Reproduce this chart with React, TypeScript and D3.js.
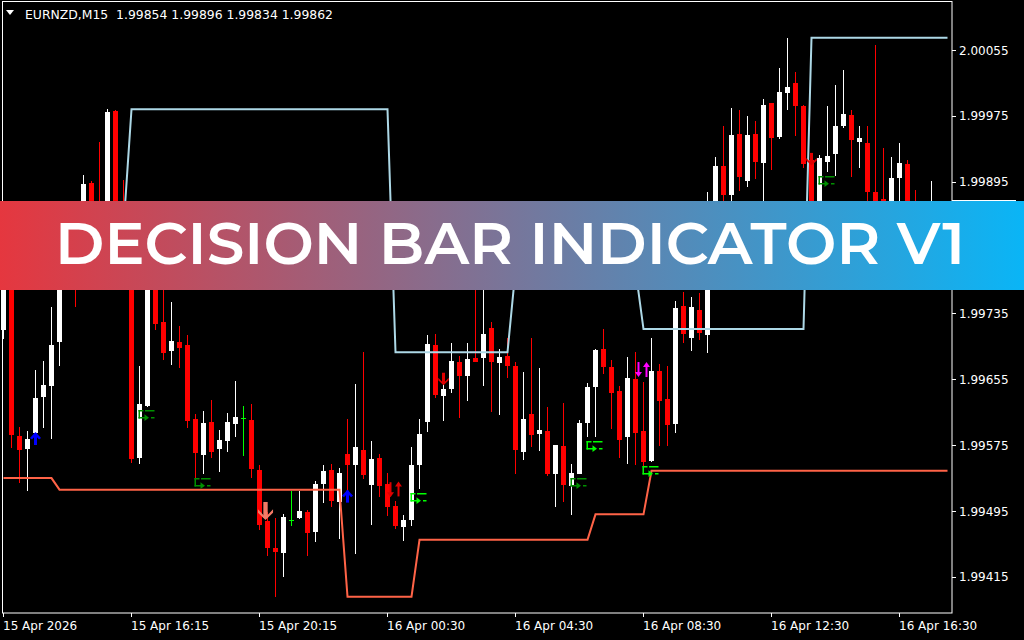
import React from "react";
import * as d3 from "d3";

// EURNZD M15 candles, bar 0 = 15 Apr 12:15
const opens = [
  1.99715, 1.998, 1.99586, 1.9957, 1.9959, 1.99633, 1.99647, 1.997, 1.99794, 1.99806,
  1.99824, 1.99893, 1.99855, 1.99806, 1.99981, 1.99848, 1.99788, 1.99559, 1.99622, 1.99782,
  1.99725, 1.99689, 1.997, 1.99697, 1.99607, 1.99563, 1.99603, 1.9957, 1.9958, 1.99601,
  1.99608, 1.99606, 1.99545, 1.99483, 1.9945, 1.99444, 1.99484, 1.99487, 1.99494, 1.9947,
  1.99528, 1.99545, 1.99506, 1.99564, 1.99551, 1.99569, 1.99527, 1.99559, 1.99528, 1.99501,
  1.99476, 1.99484, 1.99551, 1.99603, 1.99697, 1.99635, 1.99643, 1.99676, 1.99659, 1.99681,
  1.99681, 1.99717, 1.99675, 1.99683, 1.99671, 1.99567, 1.99613, 1.99588, 1.99592, 1.9954,
  1.99574, 1.99525, 1.9954, 1.99602, 1.99646, 1.99692, 1.9967, 1.99641, 1.99585, 1.99655,
  1.99592, 1.99556, 1.99665, 1.99631, 1.99601, 1.99744, 1.99705, 1.99739, 1.99709, 1.99824,
  1.99914, 1.99879, 1.99953, 1.99896, 1.99953, 1.99918, 1.99991, 1.99949, 2.00003, 2.00015,
  1.99987, 1.99921, 1.99836, 1.99919, 1.99929, 1.99963, 1.99976, 1.99943, 1.99942, 1.99882,
  1.99874, 1.99842, 1.99899, 1.99916, 1.99855, 1.99836, 1.99854,
];
const highs = [
  1.99812, 1.99812, 1.99597, 1.99592, 1.99666, 1.99677, 1.99743, 1.998, 1.99812, 1.99818,
  1.99903, 1.99896, 1.99943, 1.99983, 1.99982, 1.99897, 1.998, 1.99671, 1.99812, 1.99794,
  1.99769, 1.99749, 1.9972, 1.99709, 1.99613, 1.99616, 1.9963, 1.99593, 1.99614, 1.99653,
  1.99622, 1.99625, 1.99551, 1.99494, 1.99487, 1.99491, 1.99519, 1.99519, 1.99496, 1.99531,
  1.99551, 1.99552, 1.99547, 1.99607, 1.99649, 1.99688, 1.9958, 1.99564, 1.99541, 1.99507,
  1.9949, 1.99573, 1.99607, 1.99709, 1.9971, 1.99654, 1.99699, 1.99683, 1.99699, 1.99782,
  1.99776, 1.99725, 1.99692, 1.99705, 1.99676, 1.99664, 1.99705, 1.99669, 1.99621, 1.99575,
  1.99626, 1.99552, 1.99606, 1.9965, 1.99692, 1.99716, 1.99678, 1.99647, 1.99682, 1.99688,
  1.99652, 1.99705, 1.99674, 1.99671, 1.9975, 1.99761, 1.99755, 1.9976, 1.99882, 1.99925,
  1.99963, 1.99984, 1.99982, 1.99975, 1.99969, 1.99995, 1.99991, 2.00033, 2.0007, 2.00028,
  1.99988, 1.99927, 1.99927, 1.99987, 2.00012, 2.00031, 1.99982, 1.99963, 1.99963, 2.00061,
  1.99936, 1.99925, 1.99942, 1.99921, 1.99885, 1.99867, 1.99896,
];
const lows = [
  1.99704, 1.99571, 1.99529, 1.99519, 1.99581, 1.99596, 1.99582, 1.99671, 1.99765, 1.99743,
  1.99812, 1.99824, 1.99788, 1.99794, 1.99788, 1.99782, 1.99553, 1.99552, 1.99621, 1.99715,
  1.99678, 1.99672, 1.99669, 1.99596, 1.99533, 1.9954, 1.99559, 1.99542, 1.99567, 1.99585,
  1.99562, 1.99535, 1.99472, 1.9944, 1.99391, 1.99415, 1.99477, 1.99485, 1.9944, 1.99457,
  1.99505, 1.995, 1.99461, 1.99514, 1.99443, 1.99534, 1.99478, 1.99512, 1.99489, 1.99473,
  1.99459, 1.99477, 1.99522, 1.99591, 1.99632, 1.99604, 1.99638, 1.99608, 1.99629, 1.99676,
  1.99647, 1.99615, 1.99612, 1.99657, 1.9954, 1.99557, 1.99573, 1.99568, 1.99537, 1.995,
  1.99506, 1.9949, 1.9954, 1.99585, 1.99585, 1.99661, 1.99595, 1.99559, 1.99552, 1.99551,
  1.99545, 1.99554, 1.99574, 1.99574, 1.9959, 1.99699, 1.99689, 1.99703, 1.99687, 1.99812,
  1.99867, 1.99861, 1.99884, 1.99889, 1.99898, 1.99867, 1.99909, 1.99947, 1.99982, 1.9995,
  1.99912, 1.99824, 1.99824, 1.99907, 1.99902, 1.9996, 1.99901, 1.99912, 1.99867, 1.99842,
  1.99836, 1.9983, 1.99867, 1.99842, 1.99824, 1.99824, 1.99834,
];
const closes = [
  1.998, 1.99587, 1.99569, 1.99582, 1.99632, 1.99648, 1.99697, 1.99788, 1.99776, 1.99769,
  1.99892, 1.99836, 1.998, 1.9998, 1.998, 1.998, 1.99558, 1.99625, 1.998, 1.99722,
  1.99687, 1.99701, 1.99693, 1.99604, 1.99565, 1.99602, 1.99567, 1.99581, 1.99603, 1.99609,
  1.99608, 1.99546, 1.99478, 1.9945, 1.99445, 1.99488, 1.99484, 1.99495, 1.99468, 1.99528,
  1.99544, 1.99507, 1.99541, 1.99551, 1.99573, 1.99539, 1.99558, 1.99525, 1.995, 1.99477,
  1.99484, 1.99551, 1.99588, 1.99698, 1.99636, 1.99643, 1.99677, 1.99659, 1.9968, 1.99676,
  1.9971, 1.99676, 1.99682, 1.99671, 1.99569, 1.99607, 1.99587, 1.99593, 1.9954, 1.99575,
  1.99527, 1.99541, 1.99602, 1.99646, 1.99691, 1.9967, 1.99638, 1.99581, 1.99657, 1.9959,
  1.99554, 1.99665, 1.99629, 1.99599, 1.99742, 1.9971, 1.99743, 1.99711, 1.99867, 1.99914,
  1.99879, 1.99952, 1.99901, 1.99952, 1.99919, 1.99988, 1.99948, 2.00004, 2.0001, 1.99987,
  1.99916, 1.99836, 1.99924, 1.99926, 1.99963, 1.99977, 1.99946, 1.99948, 1.99882, 1.99855,
  1.99848, 1.99899, 1.99918, 1.99855, 1.99836, 1.99855, 1.99862,
];

// indicator levels (vertices of the drawn polylines)
const upperBars = [15, 16, 48, 49, 63, 64, 79, 80, 100, 101, 118];
const upperLevels = [1.99839, 1.99983, 1.99983, 1.99688, 1.99688, 1.99788, 1.99788, 1.99716, 1.99716, 2.0007, 2.0007];
const lowerBars = [0, 6, 7, 42, 43, 51, 52, 73, 74, 80, 81, 118];
const lowerLevels = [1.99535, 1.99535, 1.99521, 1.99521, 1.99391, 1.99391, 1.9946, 1.9946, 1.99491, 1.99491, 1.99544, 1.99544];

// signals
const buyBars = [4, 43];
const buyPrices = [1.99591, 1.99521];
const sellBars = [33, 55, 101];
const sellPrices = [1.99506, 1.99663, 1.9993];
const sellColors = ["#f37a66", "#e00000", "#e00000"];
const sellSizes = [1.45, 1, 1];
const thinDownBars = [48, 79];
const thinDownPrices = [1.9953, 1.99676];
const thinUpBars = [49, 80];
const thinUpPrices = [1.99531, 1.99676];
const thinColors = ["#e00000", "#ff00ff"];
const exitBars = [17, 24, 51, 71, 73, 80, 102];
const exitPrices = [1.99618, 1.99535, 1.99517, 1.99535, 1.9958, 1.9955, 1.99902];
const exitBright = [false, false, true, false, true, true, false];

const timeTickBars = [0, 16, 32, 48, 64, 80, 96, 112];
const timeLabels = [
  "15 Apr 2026", "15 Apr 16:15", "15 Apr 20:15", "16 Apr 00:30",
  "16 Apr 04:30", "16 Apr 08:30", "16 Apr 12:30", "16 Apr 16:30",
];
const priceTicks = [2.00055, 1.99975, 1.99895, 1.99815, 1.99735, 1.99655, 1.99575, 1.99495, 1.99415];

const axisFont = "'DejaVu Sans', Tahoma, sans-serif";

export default function App() {
  const x = d3.scaleLinear().domain([0, 118]).range([3.5, 947.5]);
  const y = d3.scaleLinear().domain([1.99415, 2.00055]).range([576.9, 50]);

  const lvl = d3.line<[number, number]>().x(d => x(d[0])).y(d => y(d[1]));
  const upper = lvl(upperBars.map((b, k) => [b, upperLevels[k]]));
  const lower = lvl(lowerBars.map((b, k) => [b, lowerLevels[k]]));

  return (
    <svg width={1024} height={640} style={{ position: "fixed", left: 0, top: 0, background: "#000" }}>
      <rect width={1024} height={640} fill="#000" />

      {/* candles */}
      {opens.map((o, i) => {
        const c = closes[i];
        const cx = x(i);
        const doji = o === c;
        const col = doji ? "#00ff00" : c > o ? "#ffffff" : "#ff0000";
        const top = Math.round(y(Math.max(o, c)));
        const bot = Math.round(y(Math.min(o, c)));
        return (
          <g key={i}>
            <line x1={cx} x2={cx} y1={Math.round(y(highs[i]))} y2={Math.round(y(lows[i]))} stroke={col} strokeWidth={1} />
            {doji ? (
              <line x1={cx - 2.5} x2={cx + 2.5} y1={top + 0.5} y2={top + 0.5} stroke={col} strokeWidth={1} />
            ) : (
              <rect x={cx - 2.5} y={top} width={5} height={Math.max(1, bot - top)} fill={col} />
            )}
          </g>
        );
      })}

      {/* levels */}
      <path d={upper || ""} fill="none" stroke="#add8e6" strokeWidth={2} />
      <path d={lower || ""} fill="none" stroke="#ff6347" strokeWidth={2} />

      {/* buy arrows */}
      {buyBars.map((b, k) => (
        <g key={"b" + k} transform={`translate(${x(b)},${y(buyPrices[k])})`} fill="#0000ff">
          <path d="M-5.5,6 L0,0 L5.5,6 L3.5,7.5 L0,3.5 L-3.5,7.5 Z" />
          <rect x={-1.5} y={1} width={3} height={12} />
        </g>
      ))}
      {sellBars.map((b, k) => (
        <g key={"s" + k} transform={`translate(${x(b) - (k === 0 ? 2 : 0)},${y(sellPrices[k])}) scale(${sellSizes[k]})`} fill={sellColors[k]}>
          <rect x={-1.5} y={0} width={3} height={11} />
          <path d="M-5.2,5 L0,10.5 L5.2,5 L5.2,7.5 L0,12.5 L-5.2,7.5 Z" />
        </g>
      ))}
      {thinDownBars.map((b, k) => (
        <g key={"td" + k} transform={`translate(${x(b) + 3},${y(thinDownPrices[k])})`} fill={thinColors[k]}>
          <rect x={-1} y={0} width={2} height={11} />
          <path d="M-3.5,10 L3.5,10 L0,15 Z" />
        </g>
      ))}
      {thinUpBars.map((b, k) => (
        <g key={"tu" + k} transform={`translate(${x(b) + 3},${y(thinUpPrices[k])})`} fill={thinColors[k]}>
          <path d="M-3.5,5 L3.5,5 L0,0 Z" />
          <rect x={-1} y={4} width={2} height={11} />
        </g>
      ))}
      {exitBars.map((b, k) => (
        <g key={"e" + k} transform={`translate(${x(b) - 1},${Math.round(y(exitPrices[k]))})`} fill={exitBright[k] ? "#00ff00" : "#009000"}>
          <rect x={0} y={0} width={1.5} height={8.5} />
          <rect x={0} y={0} width={5} height={1.5} />
          <rect x={0} y={7} width={7} height={1.5} />
          <path d="M6,4.3 L10.5,7.7 L6,11 Z" />
          <rect x={6.5} y={0} width={9.5} height={1.5} />
          <rect x={12.5} y={7} width={3.5} height={1.5} />
        </g>
      ))}

      {/* frame */}
      <rect x={2.5} y={1.5} width={949.5} height={611.5} fill="none" stroke="#fff" strokeWidth={1} />

      {/* price axis */}
      {priceTicks.map(p => (
        <g key={p}>
          <line x1={952} x2={956} y1={Math.round(y(p)) + 0.5} y2={Math.round(y(p)) + 0.5} stroke="#fff" />
          <text x={959} y={y(p) + 4.5} fill="#fff" fontSize={12} fontFamily={axisFont}>{p.toFixed(5)}</text>
        </g>
      ))}
      <line x1={952} x2={1016} y1={200.5} y2={200.5} stroke="#fff" />

      {/* time axis */}
      {timeTickBars.map((b, k) => (
        <g key={b}>
          <line x1={x(b)} x2={x(b)} y1={613} y2={617} stroke="#fff" />
          <text x={x(b) - 0.5} y={630} fill="#fff" fontSize={12} fontFamily={axisFont}>{timeLabels[k]}</text>
        </g>
      ))}

      {/* header */}
      <path d="M6,10 L14,10 L10,15 Z" fill="#fff" />
      <text x={25} y={19} fill="#fff" fontSize={12} fontFamily={axisFont} textLength={308} lengthAdjust="spacingAndGlyphs" xmlSpace="preserve">
        EURNZD,M15  1.99854 1.99896 1.99834 1.99862
      </text>

      {/* banner */}
      <defs>
        <linearGradient id="bannerGrad" x1="0" x2="1" y1="0" y2="0">
          <stop offset="0" stopColor="#e5373f" />
          <stop offset="1" stopColor="#0ab5f6" />
        </linearGradient>
      </defs>
      <rect x={0} y={201} width={1024} height={89} fill="url(#bannerGrad)" />
      <text x={55} y={264} fill="#fff" fontSize={59} fontWeight={600} fontFamily="Montserrat, 'Open Sans', sans-serif" textLength={910} lengthAdjust="spacingAndGlyphs">
        DECISION BAR INDICATOR V1
      </text>
    </svg>
  );
}
